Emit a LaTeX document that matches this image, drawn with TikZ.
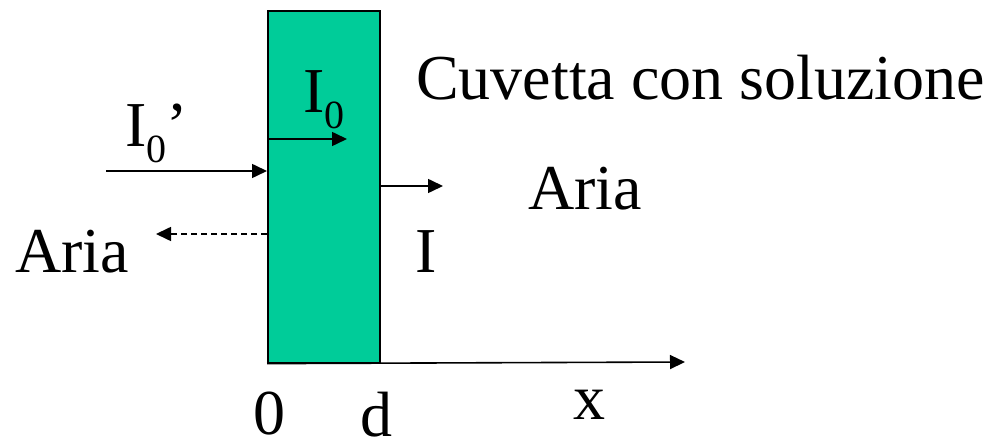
\documentclass[tikz,border=0pt]{standalone}
\usepackage{fontspec}
\setmainfont{Liberation Serif}
\usetikzlibrary{arrows.meta}
\definecolor{cuvcol}{RGB}{0,204,153}
\newcommand\subz[1]{\raisebox{-16pt}{\fontsize{40}{40}\selectfont #1}}
\begin{document}
\begin{tikzpicture}[x=1pt,y=-1pt,
  lbl/.style={inner sep=0pt, anchor=base west, font=\fontsize{64}{64}\selectfont},
  arr/.style={line width=1.6pt, -{Triangle[length=15pt,width=14pt]}}]
\useasboundingbox (0,0) rectangle (986,438);
\node[draw, line width=1.6pt, fill=cuvcol, minimum width=112pt, minimum height=352pt,
      inner sep=0pt, anchor=north west] (cuv) at (267,10) {};
% arrows
\coordinate (inL) at (106,171);
\coordinate (inR) at (267,171);
\coordinate (i0s) at (267,139);
\coordinate (i0e) at (347,139);
\coordinate (outS) at (379,186);
\coordinate (outE) at (443,186);
\coordinate (refS) at (267,234);
\coordinate (refE) at (156,234);
\coordinate (axE) at (685,362);
\draw[arr] (inL) -- (inR);
\draw[arr] (i0s) -- (i0e);
\draw[arr] (outS) -- (outE);
\draw[arr, dashed, dash pattern=on 6pt off 4pt] (refS) -- (refE);
\draw[arr] (cuv.south west) -- (axE);
% labels
\node[lbl] (tcuv) at (416,100) {Cuvetta con soluzione};
\node[lbl] (tI0p) at (125,147) {I\subz{0}’};
\node[lbl] (tI0) at (303,113) {I\subz{0}};
\node[lbl] (tariaR) at (528,210) {Aria};
\node[lbl] (tariaL) at (15,273) {Aria};
\node[lbl] (tI) at (415,273) {I};
\node[lbl] (t0) at (253,435) {0};
\node[lbl] (td) at (360,436) {d};
\node[lbl] (tx) at (573,420) {x};
\end{tikzpicture}
\end{document}
